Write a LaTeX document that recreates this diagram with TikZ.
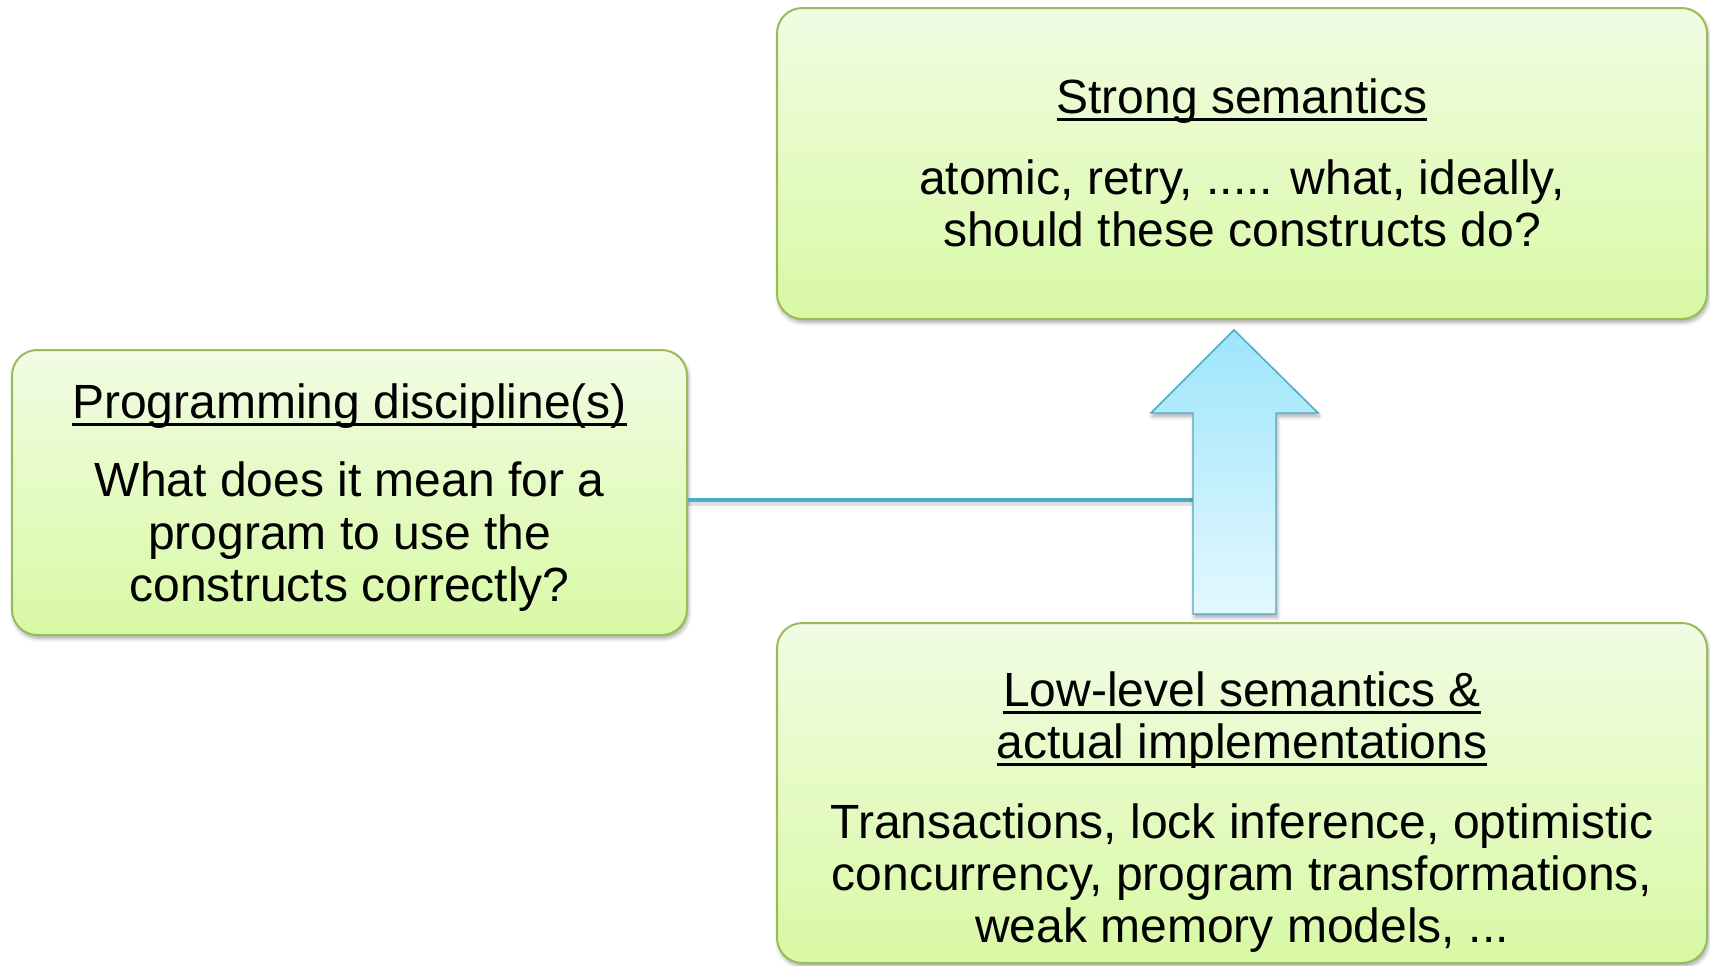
\documentclass[tikz,border=0pt]{standalone}
\usepackage{fontspec}
\setmainfont{Liberation Sans}
\usetikzlibrary{shadows.blur}
\definecolor{boxtop}{HTML}{F1FCE3}
\definecolor{boxbot}{HTML}{D8F9A4}
\definecolor{boxline}{HTML}{9BBB59}
\definecolor{arrtop}{HTML}{9EE5FC}
\definecolor{arrbot}{HTML}{E3F8FE}
\definecolor{arrline}{HTML}{4BACC6}
\newcommand{\ulx}[1]{\setbox0\hbox{#1}\rlap{\rule[-6pt]{\wd0}{2.6pt}}\box0}
\begin{document}
\begin{tikzpicture}[x=0.75pt,y=-0.75pt,
  softshadow/.style={blur shadow={shadow xshift=1pt, shadow yshift=-2.5pt, shadow blur steps=6, shadow blur radius=3pt, shadow opacity=35}},
  box/.style={draw=boxline, line width=1.5pt, rounded corners=19pt, inner sep=0pt,
    top color=boxtop, bottom color=boxbot, softshadow},
  txt/.style={anchor=base, inner sep=0pt, font=\fontsize{36}{39}\selectfont},
  link/.style={draw=arrline, line width=3pt},
  linkshadow/.style={draw=black, opacity=0.12, line width=4pt},
  bigarrow/.style={draw=arrline, line width=1.1pt, top color=arrtop, bottom color=arrbot, softshadow}]
\useasboundingbox (0,0) rectangle (1710,965);
% boxes
\node[box, minimum width=697.5pt, minimum height=233.25pt] (strong) at (1242,163.5) {};
\node[box, minimum width=506.25pt, minimum height=213.75pt] (disc) at (349.5,492.5) {};
\node[box, minimum width=697.5pt, minimum height=255pt] (low) at (1242,793) {};
% connector
\coordinate (shaftL) at (1193,500);
\coordinate (shaftLs) at (1193,503);
\draw[linkshadow] (disc.east |- shaftLs) -- (shaftLs);
\draw[link] (disc.east |- shaftL) -- (shaftL);
% block arrow
\path[bigarrow] (1193,614) -- (1193,413) -- (1151,413) -- (1234,330) -- (1318,413) -- (1276,413) -- (1276,614) -- cycle;
% texts
\node[txt] (s1) at (1242,113) {\ulx{Strong semantics}};
\node[txt] (s2) at (1242,194) {atomic, retry, ..... what, ideally,};
\node[txt] (s3) at (1242,246) {should these constructs do?};
\node[txt] (d1) at (349.5,418) {\ulx{Programming discipline(s)}};
\node[txt] (d2) at (349.5,496) {What does it mean for a};
\node[txt] (d3) at (349.5,549) {program to use the};
\node[txt] (d4) at (349.5,601) {constructs correctly?};
\node[txt] (l1) at (1242,706) {\ulx{Low-level semantics \&}};
\node[txt] (l2) at (1242,758) {\ulx{actual implementations}};
\node[txt] (l3) at (1242,838) {Transactions, lock inference, optimistic};
\node[txt] (l4) at (1242,890) {concurrency, program transformations,};
\node[txt] (l5) at (1242,942) {weak memory models, ...};
\end{tikzpicture}
\end{document}
